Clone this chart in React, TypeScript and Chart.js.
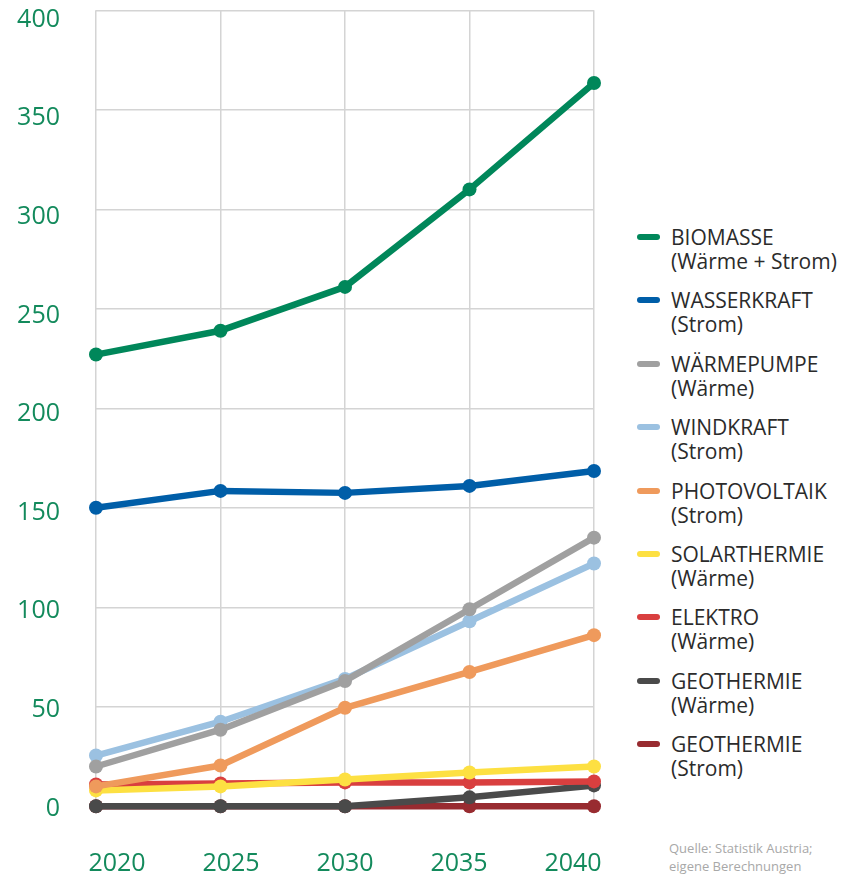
import React, { useEffect, useRef } from "react";
import { Chart, registerables } from "chart.js";

Chart.register(...registerables);

const years = ["2020", "2025", "2030", "2035", "2040"];
const yearNumbers = [2020, 2025, 2030, 2035, 2040];
const yTickValues = [0, 50, 100, 150, 200, 250, 300, 350, 400];

const biomasse = [227, 239, 261, 310, 363.5];
const wasserkraft = [150, 158.5, 157.5, 161, 168.5];
const waermepumpe = [20, 38.5, 63, 99, 135];
const windkraft = [25.5, 42.5, 64, 93, 122];
const photovoltaik = [10, 20.5, 49.5, 67.5, 86];
const solarthermie = [8, 10, 13.5, 17, 20];
const elektro = [11, 11.5, 12, 12, 12.5];
const geothermieWaerme = [0, 0, 0, 4.5, 10.5];
const geothermieStrom = [0, 0, 0, 0, 0];

const seriesNames = [
  "BIOMASSE",
  "WASSERKRAFT",
  "WÄRMEPUMPE",
  "WINDKRAFT",
  "PHOTOVOLTAIK",
  "SOLARTHERMIE",
  "ELEKTRO",
  "GEOTHERMIE",
  "GEOTHERMIE",
];
const seriesSubs = [
  "(Wärme + Strom)",
  "(Strom)",
  "(Wärme)",
  "(Strom)",
  "(Strom)",
  "(Wärme)",
  "(Wärme)",
  "(Wärme)",
  "(Strom)",
];
const seriesColors = [
  "#00875a",
  "#005ea8",
  "#a0a0a0",
  "#9bc1e1",
  "#ef9a5c",
  "#fde042",
  "#d93f3f",
  "#4a4a4a",
  "#982b30",
];
const seriesData = [
  biomasse,
  wasserkraft,
  waermepumpe,
  windkraft,
  photovoltaik,
  solarthermie,
  elektro,
  geothermieWaerme,
  geothermieStrom,
];

const FONT = "'Open Sans', 'Noto Sans', sans-serif";
const LABEL_GREEN = "#138a5c";

export default function App() {
  const ref = useRef<HTMLCanvasElement | null>(null);

  useEffect(() => {
    if (!ref.current) return;
    const chart = new Chart(ref.current, {
      type: "line",
      data: {
        labels: years,
        datasets: seriesData.map((d, i) => ({
          label: seriesNames[i] + " " + seriesSubs[i],
          data: d,
          borderColor: seriesColors[i],
          backgroundColor: seriesColors[i],
          pointBackgroundColor: seriesColors[i],
          pointBorderColor: seriesColors[i],
          borderWidth: 6.5,
          pointRadius: 7,
          pointBorderWidth: 0,
          tension: 0,
          borderJoinStyle: "round" as const,
          borderCapStyle: "round" as const,
          clip: false as any,
        })),
      },
      options: {
        responsive: false,
        animation: false,
        layout: { padding: { top: 10.3, right: 16, bottom: 0, left: 0 } },
        plugins: { legend: { display: false }, tooltip: { enabled: false } },
        scales: {
          x: {
            type: "category",
            position: "bottom",
            grid: { color: "#d4d4d4", lineWidth: 1.5, drawTicks: false },
            border: { display: false },
            ticks: { display: false },
            afterFit: (s: any) => {
              s.height = 0;
              s.paddingLeft = 0;
              s.paddingRight = 0;
            },
          },
          x2: {
            type: "linear",
            position: "bottom",
            min: 2019.079,
            max: 2040.921,
            grid: { display: false, drawTicks: false },
            border: { display: false },
            afterBuildTicks: (s: any) => {
              s.ticks = yearNumbers.map((v) => ({ value: v }));
            },
            ticks: {
              color: LABEL_GREEN,
              font: { family: FONT, size: 25 },
              padding: 43,
              maxRotation: 0,
              autoSkip: false,
              callback: (v: any) => String(v),
            },
            afterFit: (s: any) => {
              s.height = 875 - 806.3;
              s.paddingLeft = 0;
              s.paddingRight = 0;
            },
          },
          y: {
            type: "linear",
            position: "left",
            min: 0,
            max: 400,
            grid: { color: "#d4d4d4", lineWidth: 1.5, drawTicks: false },
            border: { display: false },
            ticks: { display: false, stepSize: 50 },
            afterFit: (s: any) => {
              s.width = 0;
              s.paddingTop = 0;
              s.paddingBottom = 0;
            },
          },
          y2: {
            type: "linear",
            position: "left",
            min: 1.115,
            max: 404.67,
            grid: { display: false, drawTicks: false },
            border: { display: false },
            afterBuildTicks: (s: any) => {
              s.ticks = yTickValues.map((v) => ({ value: v }));
            },
            ticks: {
              color: LABEL_GREEN,
              font: { family: FONT, size: 25 },
              padding: 36,
              callback: (v: any) => String(v),
            },
            afterFit: (s: any) => {
              s.width = 96;
              s.paddingTop = 0;
              s.paddingBottom = 0;
            },
          },
        },
      },
    });
    return () => chart.destroy();
  }, []);

  return (
    <div style={{ position: "relative", width: 835, height: 867 }}>
      <canvas
        ref={ref}
        width={610}
        height={875}
        style={{ position: "absolute", left: -8, top: -8, width: 610, height: 875 }}
      />
      <div
        style={{
          position: "absolute",
          left: 637 - 8,
          top: 225 - 8,
          fontFamily: FONT,
          fontSize: 21,
          color: "#2b2b2b",
        }}
      >
        {seriesNames.map((name, i) => (
          <div
            key={i}
            style={{
              position: "relative",
              height: 63.4,
              paddingLeft: 34,
              lineHeight: "24px",
            }}
          >
            <span
              style={{
                position: "absolute",
                left: 0,
                top: 9,
                width: 23,
                height: 6,
                borderRadius: 3,
                background: seriesColors[i],
              }}
            />
            <div style={{ whiteSpace: "nowrap" }}>{name}</div>
            <div style={{ whiteSpace: "nowrap" }}>{seriesSubs[i]}</div>
          </div>
        ))}
      </div>
      <div
        style={{
          position: "absolute",
          left: 669 - 8,
          top: 839 - 8,
          fontFamily: FONT,
          fontSize: 13,
          lineHeight: "18px",
          color: "#a8a8a8",
          whiteSpace: "nowrap",
        }}
      >
        <div>Quelle: Statistik Austria;</div>
        <div>eigene Berechnungen</div>
      </div>
    </div>
  );
}
